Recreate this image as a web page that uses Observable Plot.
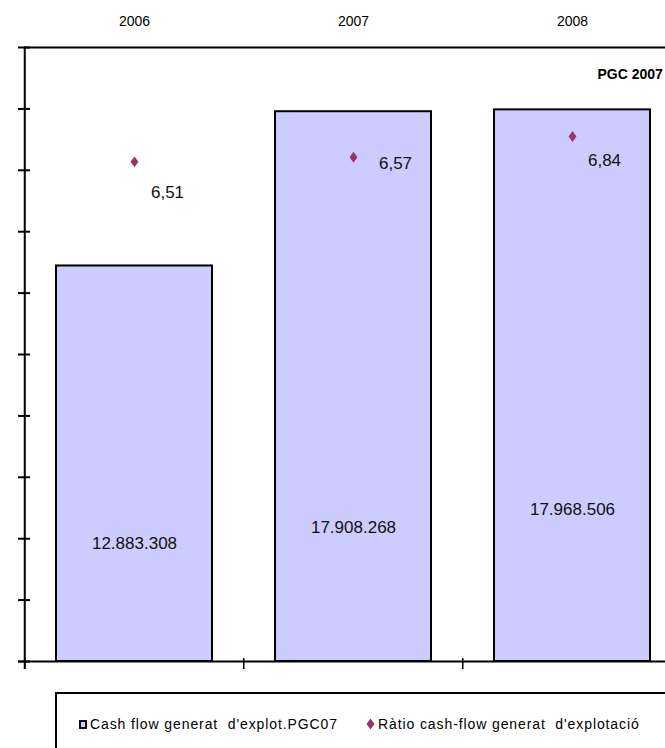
<!DOCTYPE html>
<html>
<head>
<meta charset="utf-8">
<script src="https://cdn.jsdelivr.net/npm/d3@7"></script>
<script src="https://cdn.jsdelivr.net/npm/@observablehq/plot@0.6"></script>
<style>
  html, body { margin: 0; padding: 0; background: #fff; }
  #wrap { position: relative; width: 665px; height: 748px; overflow: hidden; }
  #wrap > svg { position: absolute; left: 0; top: 0; max-width: none; }
  .legend {
    position: absolute; left: 55px; top: 692px; width: 660px; height: 80px;
    border: 2px solid #000; box-sizing: border-box; background: #fff;
    font-family: "Liberation Sans", Arial, sans-serif;
    font-size: 14px; color: #000; letter-spacing: 0.9px;
  }
  .legend .item { position: absolute; top: 22px; display: flex; align-items: center; white-space: pre; }
  .legend .box { width: 4px; height: 5px; background: #ccccff; border: 2px solid #111; margin-right: 3px; }
  .legend .mark { margin-right: 3px; }
</style>
</head>
<body>
<div id="wrap"></div>
<script>
// Cash flow generated from operations (PGC 2007) and its ratio, per year
const years = ["2006", "2007", "2008"];
const cashFlow = [12883308, 17908268, 17968506];
const ratio = [6.51, 6.57, 6.84];
const cashTicks = [0, 2e6, 4e6, 6e6, 8e6, 10e6, 12e6, 14e6, 16e6, 18e6, 20e6];
const cashMax = 20e6;   // primary axis top
const ratioMax = 8;     // secondary axis top
const seriesNames = ["Cash flow generat  d'explot.PGC07", "Ràtio cash-flow generat  d'explotació"];

const rows = years.map((year, i) => ({year, cash: cashFlow[i], ratio: ratio[i]}));

const ca = d3.formatLocale({decimal: ",", thousands: ".", grouping: [3], currency: ["", " €"]});
const fmtInt = ca.format(",d");
const fmtRatio = ca.format(".2f");

const W = 700, H = 676, ML = 24, MR = 17.5, MT = 47, MB = 15;
const step = (W - ML - MR) / years.length;
const font = `"Liberation Sans", Arial, sans-serif`;

// taller-than-wide rhombus marker
const rhombus = {
  draw(ctx, size) {
    const h = Math.sqrt(size / (2 * 0.72)), w = h * 0.72;
    ctx.moveTo(0, -h); ctx.lineTo(w, 0); ctx.lineTo(0, h); ctx.lineTo(-w, 0); ctx.closePath();
  }
};
const toCash = (r) => r * cashMax / ratioMax;

// per-point label offsets
const ratioLabel = [[33, 31], [42, 6], [32, 24]];
const cashLabel = [-118, -134, -152];

const chart = Plot.plot({
  width: W, height: H,
  marginLeft: ML, marginRight: MR, marginTop: MT, marginBottom: MB,
  style: {fontFamily: font, background: "transparent", overflow: "visible", maxWidth: "none"},
  x: {type: "band", domain: years, paddingInner: 0.287, paddingOuter: 0.1435, axis: null},
  y: {domain: [0, cashMax], axis: null},
  marks: [
    Plot.barY(rows, {x: "year", y: "cash", fill: "#ccccff", stroke: "#000", strokeWidth: 2}),
    // frame top and baseline
    Plot.ruleY([cashMax], {stroke: "#000", strokeWidth: 2}),
    Plot.ruleY([0], {stroke: "#000", strokeWidth: 2, insetLeft: -6}),
    // left axis line
    Plot.ruleX([years[0]], {dx: -step / 2, stroke: "#000", strokeWidth: 2, insetBottom: -8}),
    Plot.axisY(cashTicks, {tickSize: 12, dx: 6, tickFormat: () => "", strokeWidth: 2, label: null}),
    // category separators on the baseline
    Plot.axisX(years, {anchor: "bottom", tickSize: 11, dx: -step / 2, dy: -3, tickFormat: () => "", strokeWidth: 1.5, label: null}),
    // year labels along the top
    Plot.text(years, {x: (d) => d, frameAnchor: "top", dy: -31, fontSize: 14, fill: "#000", letterSpacing: 1}),
    Plot.text(["PGC 2007"], {frameAnchor: "top-right", textAnchor: "start", dx: -85.5, dy: 22, fontSize: 14, fontWeight: "bold", fill: "#000"}),
    // bar values
    ...rows.map((r, i) => Plot.text([r], {x: "year", y: 0, text: (d) => fmtInt(d.cash), dy: cashLabel[i], fontSize: 17, fill: "#111", letterSpacing: 1})),
    // ratio markers and values
    Plot.dot(rows, {x: "year", y: (d) => toCash(d.ratio), symbol: rhombus, r: 3.7, fill: "#993366", stroke: null}),
    ...rows.map((r, i) => Plot.text([r], {x: "year", y: (d) => toCash(d.ratio), text: (d) => fmtRatio(d.ratio), dx: ratioLabel[i][0], dy: ratioLabel[i][1], fontSize: 17, fill: "#111", letterSpacing: 1}))
  ]
});

const wrap = document.getElementById("wrap");
wrap.appendChild(chart);

const legend = document.createElement("div");
legend.className = "legend";
legend.innerHTML = `
  <div class="item" style="left:22px"><span class="box"></span><span>${seriesNames[0]}</span></div>
  <div class="item" style="left:309px"><svg class="mark" width="9" height="12" viewBox="-4.5 -6 9 12"><path d="M0,-5.5L4,0L0,5.5L-4,0Z" fill="#993366"/></svg><span>${seriesNames[1]}</span></div>`;
wrap.appendChild(legend);
</script>
</body>
</html>
